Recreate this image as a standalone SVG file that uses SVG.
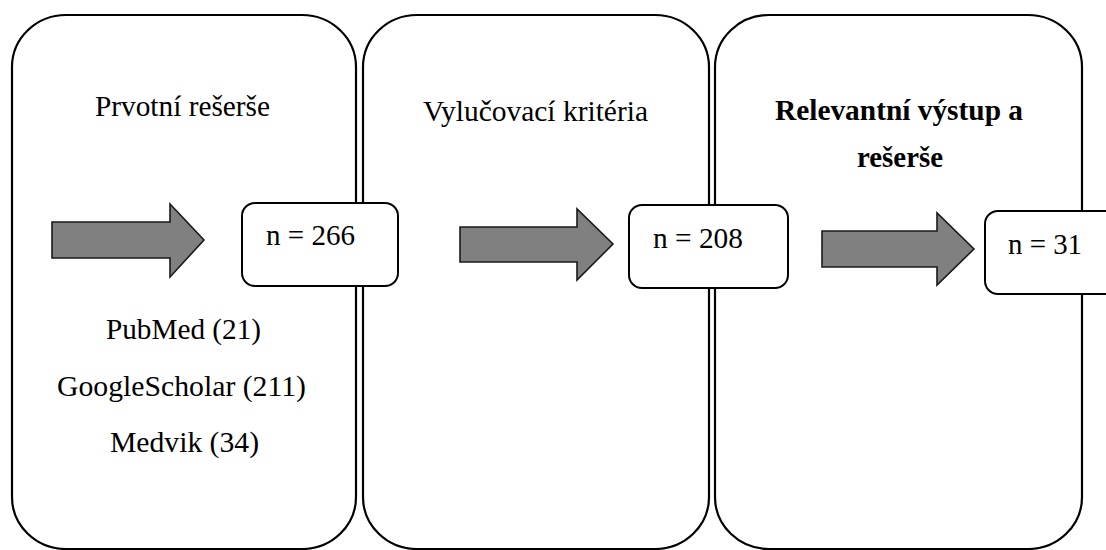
<svg xmlns="http://www.w3.org/2000/svg" width="1106" height="550" viewBox="0 0 1106 550">
  <style>
    .panel { fill: #ffffff; stroke: #000000; stroke-width: 2.2; }
    .box { fill: #ffffff; stroke: #000000; stroke-width: 2; }
    .arrow { fill: #808080; stroke: #1a1a1a; stroke-width: 1.6; stroke-linejoin: miter; }
    .t { font-family: "Liberation Serif", "Times New Roman", serif; font-size: 29px; fill: #000000; }
    .tb { font-family: "Liberation Serif", "Times New Roman", serif; font-size: 29px; font-weight: bold; fill: #000000; }
  </style>
  <rect width="1106" height="550" fill="#ffffff"/>
  <g id="panel-prvotni">
    <rect class="panel" x="12" y="15" width="344" height="534" rx="54" ry="52"/>
    <text class="t" x="95" y="116" textLength="175" lengthAdjust="spacingAndGlyphs">Prvotní rešerše</text>
    <text class="t" x="106" y="339" textLength="155" lengthAdjust="spacingAndGlyphs">PubMed (21)</text>
    <text class="t" x="57" y="396" textLength="249" lengthAdjust="spacingAndGlyphs">GoogleScholar (211)</text>
    <text class="t" x="110" y="452" textLength="149" lengthAdjust="spacingAndGlyphs">Medvik (34)</text>
  </g>
  <g id="panel-vylucovaci">
    <rect class="panel" x="363" y="15" width="346" height="534" rx="54" ry="52"/>
    <text class="t" x="423" y="121" textLength="225" lengthAdjust="spacingAndGlyphs">Vylučovací kritéria</text>
  </g>
  <g id="panel-relevantni">
    <rect class="panel" x="715" y="15" width="367" height="534" rx="54" ry="52"/>
    <text class="tb" x="775" y="120" textLength="248" lengthAdjust="spacingAndGlyphs">Relevantní výstup a</text>
    <text class="tb" x="857" y="167" textLength="86" lengthAdjust="spacingAndGlyphs">rešerše</text>
  </g>
  <g id="connectors">
    <path class="arrow" d="M52,222 L170,222 L170,204 L204,240 L170,277 L170,258 L52,258 Z"/>
    <path class="arrow" d="M460,227 L577,227 L577,209 L613,244 L577,280 L577,262 L460,262 Z"/>
    <path class="arrow" d="M822,231 L937,231 L937,213 L974,249 L937,285 L937,267 L822,267 Z"/>
  </g>
  <g id="box-266">
    <rect class="box" x="242" y="203" width="156" height="83" rx="13" ry="13"/>
    <text class="t" x="266" y="245" textLength="89" lengthAdjust="spacingAndGlyphs">n = 266</text>
  </g>
  <g id="box-208">
    <rect class="box" x="629" y="205" width="159" height="83" rx="13" ry="13"/>
    <text class="t" x="653" y="248" textLength="90" lengthAdjust="spacingAndGlyphs">n = 208</text>
  </g>
  <g id="box-31">
    <rect class="box" x="985" y="211" width="140" height="83" rx="13" ry="13"/>
    <text class="t" x="1008" y="254" textLength="74" lengthAdjust="spacingAndGlyphs">n = 31</text>
  </g>
</svg>
